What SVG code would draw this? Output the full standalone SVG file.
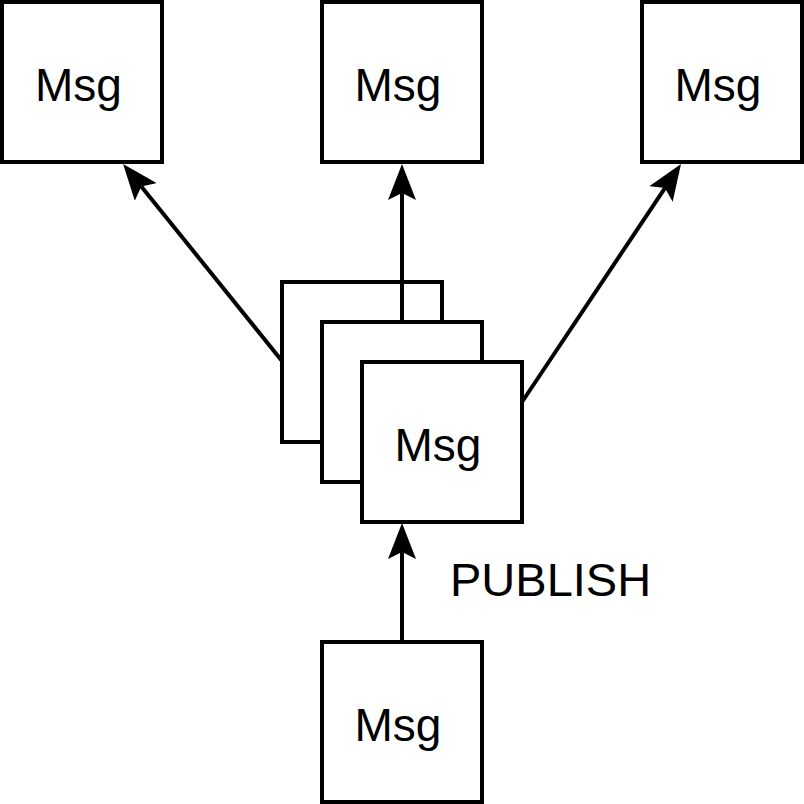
<svg xmlns="http://www.w3.org/2000/svg" width="804" height="804" viewBox="0 0 804 804">
<style>
.box{fill:#fff;stroke:#000;stroke-width:4}
.lbl{font-family:"Liberation Sans",Arial,sans-serif;font-size:46px;fill:#000;text-anchor:middle}
.edge{fill:none;stroke:#000;stroke-width:4}
</style>
<defs>
<marker id="arr" viewBox="0 0 36 28" markerWidth="36" markerHeight="28" markerUnits="userSpaceOnUse" refX="7" refY="14" orient="auto">
<path d="M36,14 L0,0 L7,14 L0,28 Z" fill="#000"/>
</marker>
</defs>
<rect width="804" height="804" fill="#fff"/>
<g id="n-top-left"><rect class="box" x="2" y="2" width="160" height="160"/><text class="lbl" x="78.5" y="101">Msg</text></g>
<g id="n-top-mid"><rect class="box" x="322" y="2" width="160" height="160"/><text class="lbl" x="398" y="101">Msg</text></g>
<g id="n-top-right"><rect class="box" x="642" y="2" width="160" height="160"/><text class="lbl" x="718" y="101">Msg</text></g>
<g id="n-stack1"><rect class="box" x="282" y="282" width="160" height="160"/></g>
<g id="e-mid"><path class="edge" d="M402,322 L402,193" marker-end="url(#arr)"/></g>
<g id="n-stack2"><rect class="box" x="322" y="322" width="160" height="160"/></g>
<g id="n-stack3"><rect class="box" x="362" y="362" width="160" height="160"/><text class="lbl" x="438" y="461">Msg</text></g>
<g id="n-bottom"><rect class="box" x="322" y="642" width="160" height="160"/><text class="lbl" x="398" y="741">Msg</text></g>
<g id="connectors">
<path class="edge" d="M282,361 L141.3,186.5" marker-end="url(#arr)"/>
<path class="edge" d="M522,402 L664.9,188.1" marker-end="url(#arr)"/>
<path class="edge" d="M402,642 L402,552" marker-end="url(#arr)"/>
</g>
<text x="450" y="596" font-family="Liberation Sans, Arial, sans-serif" font-size="47" fill="#000">PUBLISH</text>
</svg>
